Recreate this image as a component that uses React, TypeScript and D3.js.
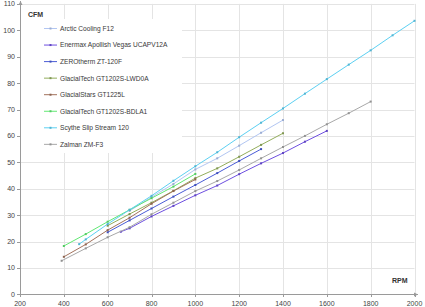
import React, { useEffect, useRef } from 'react';
import * as d3 from 'd3';

// fan curves: rpm -> cfm
const arcticRpm = [700, 800, 900, 1000, 1100, 1200, 1300, 1400];
const arcticCfm = [31.6, 36.8, 41.8, 47.3, 51.5, 56.3, 61.2, 66];
const enermaxRpm = [660, 700, 800, 900, 1000, 1100, 1200, 1300, 1400, 1500, 1600];
const enermaxCfm = [23.7, 25, 29.5, 33.5, 37.5, 41.2, 45.5, 49.6, 53.5, 57.8, 61.9];
const zerothermRpm = [600, 700, 800, 900, 1000, 1100, 1200, 1300];
const zerothermCfm = [23.5, 28, 32.5, 37, 41.4, 45.9, 50.5, 55];
const lwd0aRpm = [600, 700, 800, 900, 1000, 1100, 1200, 1300, 1400];
const lwd0aCfm = [26, 30.4, 34.7, 39.2, 44, 47.7, 52.1, 56.6, 61];
const glacialStarsRpm = [400, 500, 600, 700, 800, 900, 1000];
const glacialStarsCfm = [14.2, 18.9, 24.3, 29, 34.3, 39.1, 43.5];
const bdla1Rpm = [400, 500, 600, 700, 800, 900, 1000];
const bdla1Cfm = [18.3, 22.8, 27.5, 32, 36.4, 40.8, 45.6];
const scytheRpm = [470, 500, 600, 700, 800, 900, 1000, 1100, 1200, 1300, 1400, 1500, 1600, 1700, 1800, 1900, 2000];
const scytheCfm = [19, 20.8, 26.6, 32, 37.3, 43, 48.5, 53.8, 59.5, 65, 70.4, 76, 81.5, 87, 92.4, 98.1, 103.6];
const zalmanRpm = [390, 500, 600, 700, 800, 900, 1000, 1100, 1200, 1300, 1400, 1500, 1600, 1700, 1800];
const zalmanCfm = [12.7, 17.4, 21.6, 25.4, 30.3, 34.7, 39.1, 42.9, 47.1, 51.5, 55.8, 60, 64.4, 68.6, 73];

const seriesNames = [
  'Arctic Cooling F12',
  'Enermax Apollish Vegas UCAPV12A',
  'ZEROtherm ZT-120F',
  'GlacialTech GT1202S-LWD0A',
  'GlacialStars GT1225L',
  'GlacialTech GT1202S-BDLA1',
  'Scythe Slip Stream 120',
  'Zalman ZM-F3',
];
const seriesColors = ['#b2c6f2', '#6e4fe0', '#4a5cd6', '#93ad5c', '#a2725c', '#60e872', '#5cd0f2', '#a8a8a8'];
const seriesRpm = [arcticRpm, enermaxRpm, zerothermRpm, lwd0aRpm, glacialStarsRpm, bdla1Rpm, scytheRpm, zalmanRpm];
const seriesCfm = [arcticCfm, enermaxCfm, zerothermCfm, lwd0aCfm, glacialStarsCfm, bdla1Cfm, scytheCfm, zalmanCfm];

const xTicks = [200, 400, 600, 800, 1000, 1200, 1400, 1600, 1800, 2000];
const yTicks = [0, 10, 20, 30, 40, 50, 60, 70, 80, 90, 100, 110];

export default function App() {
  const ref = useRef<SVGSVGElement>(null);

  useEffect(() => {
    const svg = d3.select(ref.current);
    svg.selectAll('*').remove();
    const font = '"Liberation Sans", Arial, sans-serif';

    const x = d3.scaleLinear().domain([200, 2000]).range([20, 414.5]);
    const y = d3.scaleLinear().domain([0, 110]).range([294.3, 3.9]);

    // grid
    const grid = svg.append('g');
    grid.selectAll('.vg').data(xTicks.slice(1)).join('line')
      .attr('x1', d => Math.round(x(d)) + 0.5).attr('x2', d => Math.round(x(d)) + 0.5)
      .attr('y1', y(110)).attr('y2', y(0))
      .attr('stroke', '#e4e4e4').attr('stroke-width', 1);
    grid.selectAll('.hg').data(yTicks.slice(1)).join('line')
      .attr('x1', x(200)).attr('x2', x(2000))
      .attr('y1', d => Math.round(y(d)) + 0.5).attr('y2', d => Math.round(y(d)) + 0.5)
      .attr('stroke', '#e4e4e4').attr('stroke-width', 1);

    // legend background hides the grid
    svg.append('rect').attr('x', 21).attr('y', 19).attr('width', 161).attr('height', 134).attr('fill', '#fff');

    // axes
    const axisColor = '#9a9a9a';
    svg.append('line').attr('x1', 20.5).attr('x2', 20.5).attr('y1', 1).attr('y2', y(0)).attr('stroke', axisColor);
    svg.append('line').attr('x1', 20).attr('x2', 418).attr('y1', 294.5).attr('y2', 294.5).attr('stroke', axisColor);
    svg.append('path').attr('d', 'M18.5,5 L20.5,1 L22.5,5 Z').attr('fill', axisColor);
    svg.append('path').attr('d', 'M414,292.5 L418,294.5 L414,296.5 Z').attr('fill', axisColor);

    svg.selectAll('.yt').data(yTicks).join('line')
      .attr('x1', 17).attr('x2', 20)
      .attr('y1', d => Math.round(y(d)) + 0.5).attr('y2', d => Math.round(y(d)) + 0.5)
      .attr('stroke', axisColor);
    svg.selectAll('.xt').data(xTicks).join('line')
      .attr('x1', d => Math.round(x(d)) + 0.5).attr('x2', d => Math.round(x(d)) + 0.5)
      .attr('y1', 294).attr('y2', 297)
      .attr('stroke', axisColor);

    svg.selectAll('.yl').data(yTicks).join('text')
      .attr('x', 15).attr('y', d => y(d) + 2.5)
      .attr('text-anchor', 'end')
      .attr('font-family', font).attr('font-size', 7).attr('fill', '#444')
      .text(d => d);
    svg.selectAll('.xl').data(xTicks).join('text')
      .attr('x', d => x(d)).attr('y', 306)
      .attr('text-anchor', 'middle')
      .attr('font-family', font).attr('font-size', 7).attr('fill', '#444')
      .text(d => d);

    svg.append('text').attr('x', 28).attr('y', 16.5)
      .attr('font-family', font).attr('font-size', 7).attr('font-weight', 'bold').attr('fill', '#333')
      .text('CFM');
    svg.append('text').attr('x', 392).attr('y', 282.5)
      .attr('font-family', font).attr('font-size', 7).attr('font-weight', 'bold').attr('fill', '#333')
      .text('RPM');

    // series
    const line = d3.line<[number, number]>().x(d => x(d[0])).y(d => y(d[1]));
    seriesNames.forEach((name, i) => {
      const pts: [number, number][] = seriesRpm[i].map((r, j) => [r, seriesCfm[i][j]]);
      const g = svg.append('g');
      g.append('path').datum(pts).attr('d', line)
        .attr('fill', 'none').attr('stroke', seriesColors[i]).attr('stroke-width', 1);
      g.selectAll('rect').data(pts).join('rect')
        .attr('x', d => x(d[0]) - 1).attr('y', d => y(d[1]) - 1)
        .attr('width', 2).attr('height', 2)
        .attr('fill', d3.color(seriesColors[i])!.darker(0.4).toString());
    });

    // legend
    const leg = svg.append('g');
    seriesNames.forEach((name, i) => {
      const ly = 28.5 + i * 16.55;
      leg.append('line').attr('x1', 44).attr('x2', 57).attr('y1', ly).attr('y2', ly)
        .attr('stroke', seriesColors[i]);
      leg.append('rect').attr('x', 49.5).attr('y', ly - 1).attr('width', 2).attr('height', 2)
        .attr('fill', d3.color(seriesColors[i])!.darker(0.4).toString());
      leg.append('text').attr('x', 60).attr('y', ly + 2.4)
        .attr('font-family', font).attr('font-size', 6.6).attr('fill', '#383838')
        .text(name);
    });
  }, []);

  return (
    <svg ref={ref} width={425} height={307}
      style={{ position: 'absolute', left: 0, top: 0, background: '#fff' }} />
  );
}
